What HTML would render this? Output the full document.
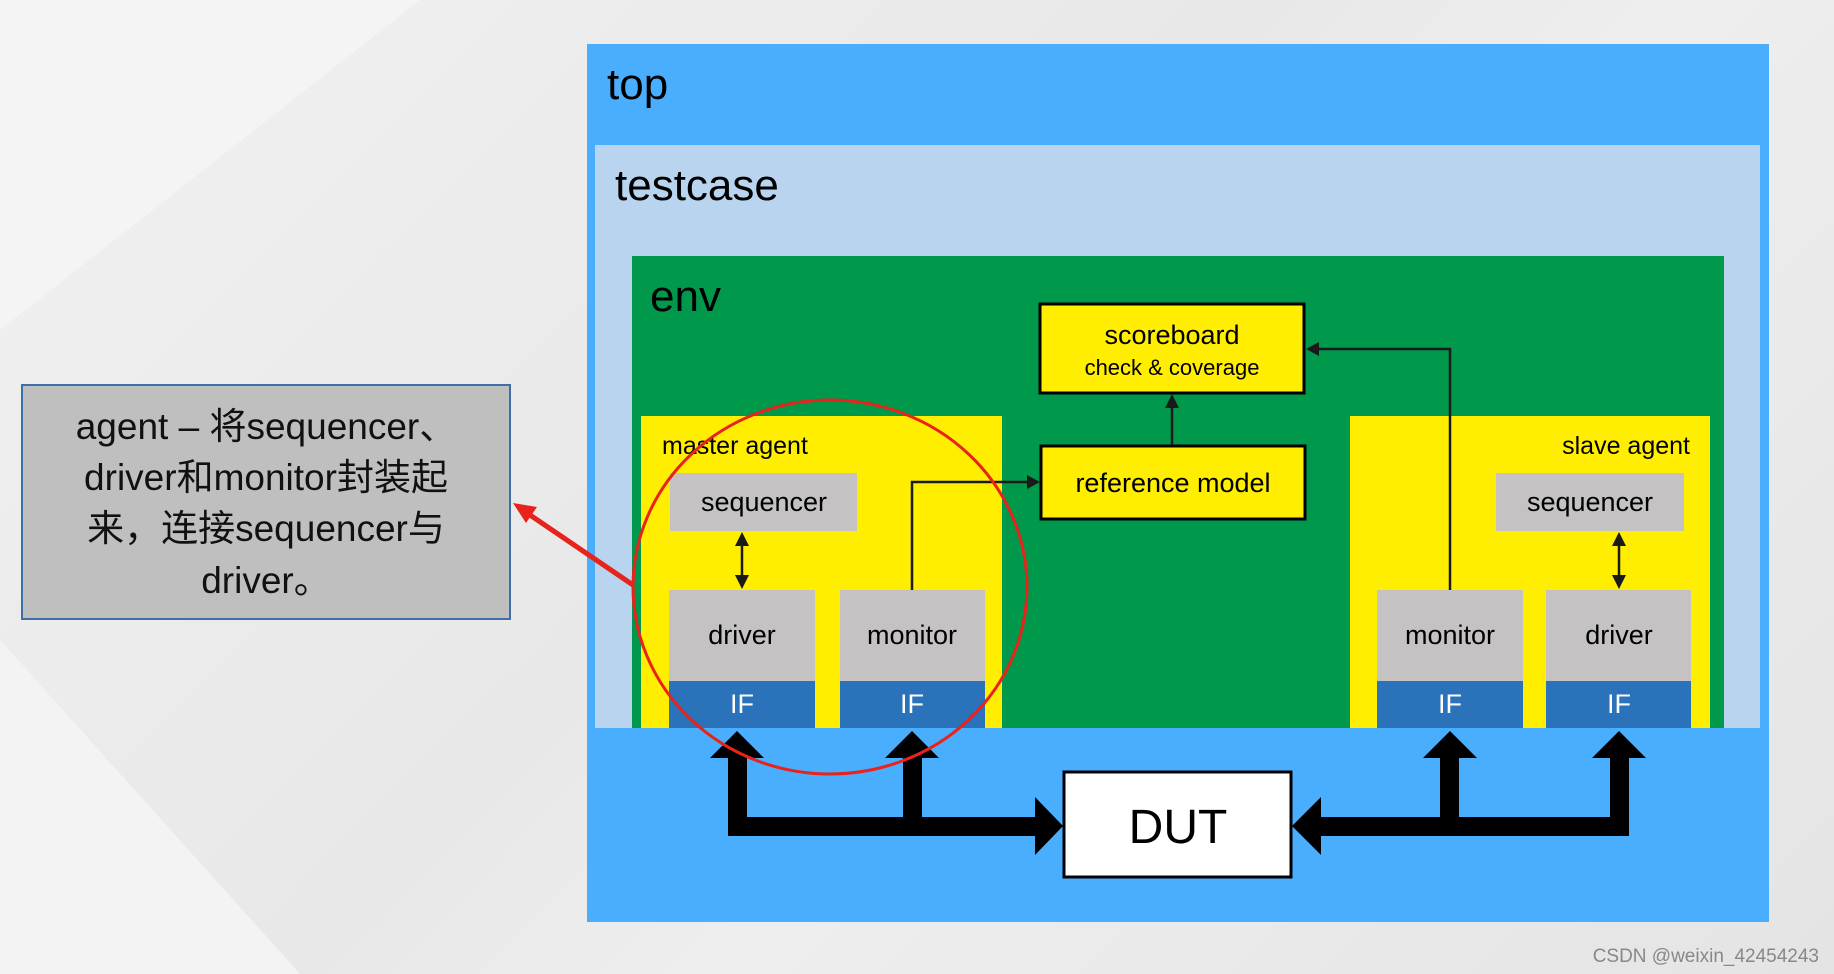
<!DOCTYPE html>
<html><head><meta charset="utf-8"><style>
html,body{margin:0;padding:0;width:1834px;height:974px;overflow:hidden}
body{background:linear-gradient(135deg,#f1f1f1 0%,#e8e8e8 45%,#eeeeee 60%,#e4e4e4 100%)}
svg{position:absolute;left:0;top:0}
text{font-family:"Liberation Sans","Noto Sans CJK SC",sans-serif}
</style></head><body>
<svg width="1834" height="974" viewBox="0 0 1834 974">
<polygon points="0,0 420,0 0,330" fill="#f4f4f4"/>
<polygon points="0,640 300,974 0,974" fill="#f3f3f3"/>
<rect x="587" y="44" width="1182" height="878" fill="#4aaeff"/>
<text x="607" y="99" font-size="44" fill="#000">top</text>
<rect x="595" y="145" width="1165" height="583" fill="#b8d4ef"/>
<text x="615" y="200" font-size="44" fill="#000">testcase</text>
<rect x="632" y="256" width="1092" height="472" fill="#00994c"/>
<text x="650" y="311" font-size="44" fill="#000">env</text>
<rect x="1040" y="304" width="264" height="89" fill="#ffee00" stroke="#000" stroke-width="3"/>
<text x="1172" y="344" font-size="27" text-anchor="middle">scoreboard</text>
<text x="1172" y="375" font-size="22" text-anchor="middle">check &amp; coverage</text>
<rect x="1041" y="446" width="264" height="73" fill="#ffee00" stroke="#000" stroke-width="3"/>
<text x="1173" y="492" font-size="27" text-anchor="middle">reference model</text>
<rect x="641" y="416" width="361" height="312" fill="#ffee00"/>
<text x="662" y="454" font-size="25">master agent</text>
<rect x="670" y="473" width="187" height="58" fill="#c4c2c2"/>
<text x="764" y="511" font-size="27" text-anchor="middle">sequencer</text>
<rect x="669" y="590" width="146" height="91" fill="#c4c2c2"/>
<text x="742" y="644" font-size="27" text-anchor="middle">driver</text>
<rect x="669" y="681" width="146" height="47" fill="#2a72b9"/>
<text x="742" y="713" font-size="27" fill="#fff" text-anchor="middle">IF</text>
<rect x="840" y="590" width="145" height="91" fill="#c4c2c2"/>
<text x="912" y="644" font-size="27" text-anchor="middle">monitor</text>
<rect x="840" y="681" width="145" height="47" fill="#2a72b9"/>
<text x="912" y="713" font-size="27" fill="#fff" text-anchor="middle">IF</text>
<rect x="1350" y="416" width="360" height="312" fill="#ffee00"/>
<text x="1690" y="454" font-size="25" text-anchor="end">slave agent</text>
<rect x="1496" y="473" width="188" height="58" fill="#c4c2c2"/>
<text x="1590" y="511" font-size="27" text-anchor="middle">sequencer</text>
<rect x="1377" y="590" width="146" height="91" fill="#c4c2c2"/>
<text x="1450" y="644" font-size="27" text-anchor="middle">monitor</text>
<rect x="1377" y="681" width="146" height="47" fill="#2a72b9"/>
<text x="1450" y="713" font-size="27" fill="#fff" text-anchor="middle">IF</text>
<rect x="1546" y="590" width="145" height="91" fill="#c4c2c2"/>
<text x="1619" y="644" font-size="27" text-anchor="middle">driver</text>
<rect x="1546" y="681" width="145" height="47" fill="#2a72b9"/>
<text x="1619" y="713" font-size="27" fill="#fff" text-anchor="middle">IF</text>
<g stroke="#1a1a1a" stroke-width="2.5" fill="none">
<polyline points="912,590 912,482 1028,482"/>
<polyline points="1450,590 1450,349 1318,349"/>
<line x1="1172" y1="445" x2="1172" y2="406"/>
<line x1="742" y1="545" x2="742" y2="576"/>
<line x1="1619" y1="545" x2="1619" y2="576"/>
</g>
<g fill="#1a1a1a">
<polygon points="1040,482 1027,475 1027,489"/>
<polygon points="1306,349 1319,342 1319,356"/>
<polygon points="1172,394 1165,408 1179,408"/>
<polygon points="742,532 735,546 749,546"/><polygon points="742,589 735,575 749,575"/>
<polygon points="1619,532 1612,546 1626,546"/><polygon points="1619,589 1612,575 1626,575"/>
</g>
<rect x="1064" y="772" width="227" height="105" fill="#fff" stroke="#000" stroke-width="3"/>
<text x="1178" y="843" font-size="48" text-anchor="middle">DUT</text>
<g fill="#000">
<rect x="728" y="757" width="19" height="79"/>
<rect x="728" y="817" width="310" height="19"/>
<rect x="903" y="757" width="19" height="70"/>
<polygon points="737,731 710,758 764,758"/>
<polygon points="912,731 885,758 939,758"/>
<polygon points="1063,826 1035,797 1035,855"/>
<rect x="1320" y="817" width="309" height="19"/>
<rect x="1440" y="757" width="19" height="70"/>
<rect x="1610" y="757" width="19" height="79"/>
<polygon points="1450,731 1423,758 1477,758"/>
<polygon points="1619,731 1592,758 1646,758"/>
<polygon points="1292,826 1321,797 1321,855"/>
</g>
<ellipse cx="830" cy="587" rx="197" ry="187" fill="none" stroke="#e8231c" stroke-width="3"/>
<line x1="633" y1="585" x2="530" y2="515" stroke="#e8231c" stroke-width="5"/>
<polygon points="513,503 537,507 526,523" fill="#e8231c"/>
<rect x="22" y="385" width="488" height="234" fill="#bfbfbf" stroke="#3f6fa8" stroke-width="2"/>
<g font-size="37" text-anchor="middle" fill="#111">
<text x="266" y="439">agent – 将sequencer、</text>
<text x="266" y="490">driver和monitor封装起</text>
<text x="266" y="541">来，连接sequencer与</text>
<text x="266" y="593">driver。</text>
</g>
<text x="1819" y="962" font-size="19" fill="#888" text-anchor="end">CSDN @weixin_42454243</text>
</svg>
</body></html>
